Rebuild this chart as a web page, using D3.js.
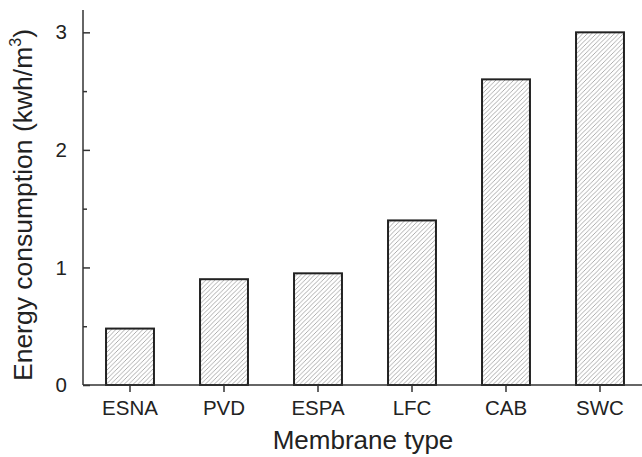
<!DOCTYPE html>
<html lang="en">
  <head>
    <meta charset="utf-8">
    <title>Energy consumption by membrane type</title>
    <script src="https://d3js.org/d3.v7.min.js"></script>
    <style>
      body { margin: 0; background: #fff; }
      text { font-family: "Liberation Sans", Arial, sans-serif; fill: #222; }
    </style>
  </head>
  <body>
    <script type="text/javascript">
    // data
    var membranes = ["ESNA", "PVD", "ESPA", "LFC", "CAB", "SWC"];
    var energy = [0.48, 0.90, 0.95, 1.40, 2.60, 3.00];
    var yMajorTicks = [0, 1, 2, 3];
    var yMinorTicks = [0.5, 1.5, 2.5];

    var W = 642, H = 457;
    var m = {left: 83, right: 647, top: 10, bottom: 385};

    var svg = d3.select("body").append("svg")
      .attr("width", W)
      .attr("height", H);

    // hatch fill for the bars
    var defs = svg.append("defs");
    var pat = defs.append("pattern")
      .attr("id", "hatch")
      .attr("patternUnits", "userSpaceOnUse")
      .attr("width", 4.5)
      .attr("height", 4.5);
    pat.append("path")
      .attr("d", "M-1,1 L1,-1 M0,4.5 L4.5,0 M3.5,5.5 L5.5,3.5")
      .attr("stroke", "#999")
      .attr("stroke-width", 0.8);

    var x = d3.scaleBand()
      .domain(membranes)
      .range([m.left, m.right])
      .paddingInner(0.49)
      .paddingOuter(0.245);

    var y = d3.scaleLinear()
      .domain([0, 3.19])
      .range([m.bottom, m.top]);

    // bars
    svg.append("g").selectAll("rect")
      .data(membranes)
      .enter().append("rect")
      .attr("x", function(d) { return x(d); })
      .attr("width", x.bandwidth())
      .attr("y", function(d, i) { return y(energy[i]); })
      .attr("height", function(d, i) { return y(0) - y(energy[i]); })
      .attr("fill", "url(#hatch)")
      .attr("stroke", "#222")
      .attr("stroke-width", 2);

    // x axis
    var gx = svg.append("g")
      .attr("transform", "translate(0," + m.bottom + ")")
      .call(d3.axisBottom(x).tickSize(7).tickPadding(8).tickSizeOuter(0));
    gx.select(".domain").attr("stroke", "#333").attr("stroke-width", 1.5)
      .attr("d", "M" + m.left + ",0H" + W);
    gx.selectAll(".tick line").attr("stroke", "#333").attr("stroke-width", 1.5);
    gx.selectAll(".tick text").attr("font-size", "20.5px").attr("fill", "#222")
      .attr("font-family", "'Liberation Sans', Arial, sans-serif");

    // y axis, ticks pointing inward
    var gy = svg.append("g")
      .attr("transform", "translate(" + m.left + ",0)")
      .call(d3.axisLeft(y).tickValues(yMajorTicks).tickFormat(d3.format("d"))
        .tickSize(-7).tickPadding(16).tickSizeOuter(0));
    gy.select(".domain").attr("stroke", "#333").attr("stroke-width", 1.5)
      .attr("d", "M0," + m.top + "V" + m.bottom);
    gy.selectAll(".tick line").attr("stroke", "#333").attr("stroke-width", 1.5);
    gy.selectAll(".tick text").attr("font-size", "20.5px").attr("fill", "#222")
      .attr("font-family", "'Liberation Sans', Arial, sans-serif");

    var gm = svg.append("g")
      .attr("transform", "translate(" + m.left + ",0)")
      .call(d3.axisLeft(y).tickValues(yMinorTicks).tickFormat("")
        .tickSize(-4).tickSizeOuter(0));
    gm.select(".domain").remove();
    gm.selectAll(".tick line").attr("stroke", "#333").attr("stroke-width", 1.5);

    // axis titles
    svg.append("text")
      .attr("x", 363)
      .attr("y", 449)
      .attr("text-anchor", "middle")
      .attr("font-size", "26px")
      .text("Membrane type");

    var yt = svg.append("text")
      .attr("transform", "translate(32,205) rotate(-90)")
      .attr("text-anchor", "middle")
      .attr("font-size", "26.5px");
    yt.append("tspan").text("Energy consumption (kwh/m");
    yt.append("tspan").attr("font-size", "16px").attr("dy", -11).text("3");
    yt.append("tspan").attr("dy", 11).text(")");
    </script>
  </body>
</html>
